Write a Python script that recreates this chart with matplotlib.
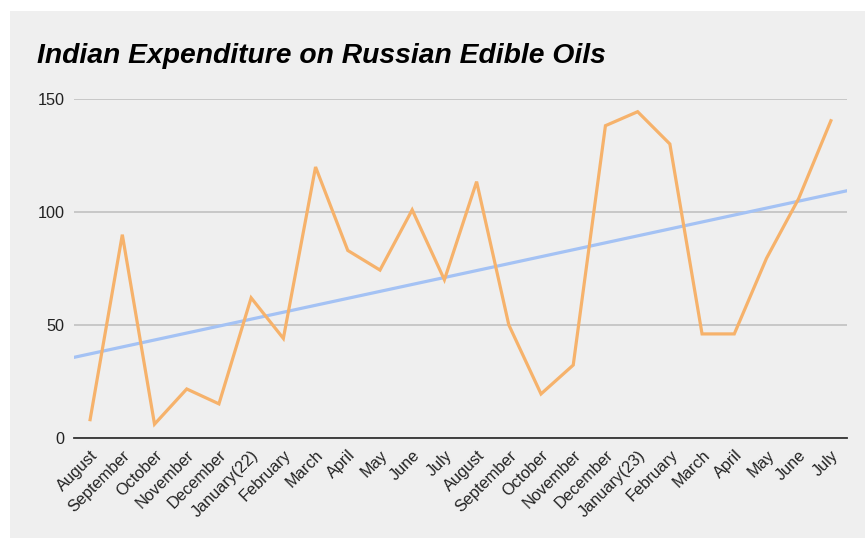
import numpy as np
import matplotlib.pyplot as plt
from matplotlib import font_manager
from matplotlib.patches import Rectangle

# Datos mensuales (ago 2021 - jul 2023)
meses = ['August', 'September', 'October', 'November', 'December', 'January(22)',
         'February', 'March', 'April', 'May', 'June', 'July',
         'August', 'September', 'October', 'November', 'December', 'January(23)',
         'February', 'March', 'April', 'May', 'June', 'July']
gasto = [8, 90, 6, 21.6, 15, 62, 44, 120, 83, 74.3, 101, 70,
         113.5, 50, 19.4, 32.2, 138.3, 144.5, 130.2, 46, 46, 79.5, 106, 140.5]
yticks = [0, 50, 100, 150]

nombres = {f.name for f in font_manager.fontManager.ttflist}
fuente = 'Liberation Sans' if 'Liberation Sans' in nombres else 'DejaVu Sans'
plt.rcParams['font.family'] = fuente

fondo = '#efefef'
fig = plt.figure(figsize=(8.65, 5.38), dpi=100)
fig.patch.set_facecolor('white')
fig.patches.append(Rectangle((10 / 865, 0), 1, 1 - 11 / 538, transform=fig.transFigure,
                             facecolor=fondo, edgecolor='none', zorder=-1))

ax = fig.add_axes([74 / 865, 1 - 437.7 / 538, 773 / 865, 338.4 / 538])
ax.set_zorder(1)
ax.set_facecolor(fondo)

x = np.arange(len(meses))
ax.plot(x, gasto, color='#f6b26b', lw=2.3, solid_joinstyle='miter', zorder=3)

# Linea de tendencia
m, b = np.polyfit(x, gasto, 1)
xt = np.array([-0.5, len(meses) - 0.5])
ax.plot(xt, m * xt + b, color='#a4c2f4', lw=2.3, zorder=2)

ax.set_xlim(-0.5, len(meses) - 0.5)
ax.set_ylim(0, 150)
ax.set_yticks(yticks)
ax.set_yticklabels([str(v) for v in yticks], fontsize=11.7, color='#222222')
ax.grid(axis='y', color='#bdbdbd', lw=1.1)
ax.set_axisbelow(True)
ax.tick_params(axis='y', length=0, pad=7)
ax.tick_params(axis='x', length=0, pad=7)
ax.set_xticks(x)
ax.set_xticklabels(meses, rotation=45, ha='right', rotation_mode='anchor',
                   fontsize=11.7, color='#222222')
for lado in ['top', 'right', 'left']:
    ax.spines[lado].set_visible(False)
ax.spines['bottom'].set_color('#333333')
ax.spines['bottom'].set_linewidth(1.3)

fig.text(37 / 865, 1 - 63 / 538, 'Indian Expenditure on Russian Edible Oils',
         fontsize=20.3, fontweight='bold', fontstyle='italic',
         color='black', ha='left', va='baseline')

plt.savefig('out.png', dpi=100, facecolor=fig.get_facecolor())
